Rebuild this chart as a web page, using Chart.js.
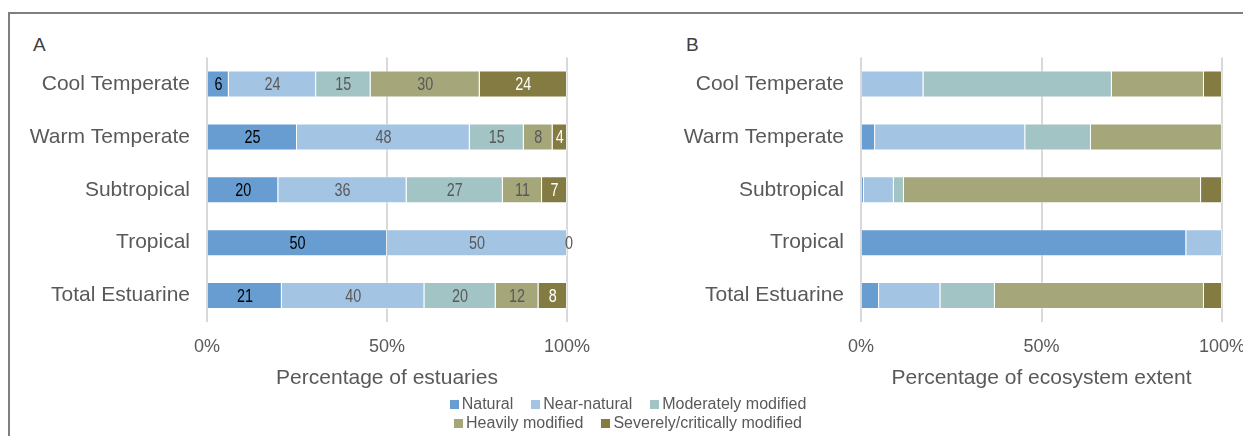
<!DOCTYPE html>
<html><head><meta charset="utf-8">
<script src="https://cdn.jsdelivr.net/npm/chart.js@4.4.1/dist/chart.umd.min.js"></script>
<style>
html,body{margin:0;padding:0;background:#fff;width:1243px;height:436px;overflow:hidden;font-family:"Liberation Sans",Arial,sans-serif;}
#frame{position:absolute;left:8px;top:12px;width:1260px;height:440px;border-left:2px solid #7f7f7f;border-top:2px solid #7f7f7f;}
.panel{position:absolute;font-size:19px;color:#404040;line-height:20px;}
.wrap{position:absolute;}
#legend{position:absolute;left:328px;width:600px;top:394px;text-align:center;font-size:16px;color:#595959;line-height:19px;}
.row{white-space:nowrap;}
.item{display:inline-block;margin:0 9px;}
.box{display:inline-block;width:9px;height:9px;margin-right:3px;vertical-align:0px;}
</style></head>
<body>
<div id="frame"></div>
<div class="panel" style="left:33px;top:35px;">A</div>
<div class="panel" style="left:686px;top:35px;">B</div>
<div class="wrap" style="left:10px;top:28px;width:610px;height:372px;"><canvas id="c1" width="610" height="372"></canvas></div>
<div class="wrap" style="left:630px;top:28px;width:653px;height:372px;"><canvas id="c2" width="653" height="372"></canvas></div>
<div id="legend"></div>
<script>
const categories = ['Cool Temperate', 'Warm Temperate', 'Subtropical', 'Tropical', 'Total Estuarine'];
const seriesNames = ['Natural', 'Near-natural', 'Moderately modified', 'Heavily modified', 'Severely/critically modified'];
const seriesColors = ['#679dd1', '#a4c4e3', '#a3c4c5', '#a5a77a', '#837b42'];
const labelColors = ['#000000', '#595959', '#595959', '#595959', '#ffffff'];

// Panel A: percentage of estuaries (number labels as printed)
const estNatural  = [6, 25, 20, 50, 21];
const estNear     = [24, 48, 36, 50, 40];
const estModerate = [15, 15, 27, 0, 20];
const estHeavy    = [30, 8, 11, 0, 12];
const estSevere   = [24, 4, 7, 0, 8];

// Panel B: percentage of ecosystem extent
const extNatural  = [0, 3.9, 0.8, 90.1, 5.0];
const extNear     = [17.3, 41.6, 8.3, 9.9, 17.0];
const extModerate = [52.2, 18.2, 2.8, 0, 15.1];
const extHeavy    = [25.5, 36.3, 82.3, 0, 57.9];
const extSevere   = [5.0, 0, 5.8, 0, 5.0];

const tickValues = [0, 50, 100];
const tickLabels = ['0%', '50%', '100%'];
const titleA = 'Percentage of estuaries';
const titleB = 'Percentage of ecosystem extent';

// legend
const lg = document.getElementById('legend');
[[0,1,2],[3,4]].forEach(r => {
  const row = document.createElement('div'); row.className = 'row';
  r.forEach(i => {
    const it = document.createElement('span'); it.className = 'item';
    const b = document.createElement('span'); b.className = 'box'; b.style.background = seriesColors[i];
    it.appendChild(b); it.appendChild(document.createTextNode(seriesNames[i]));
    row.appendChild(it);
  });
  lg.appendChild(row);
});

const segLabels = {
  id: 'segLabels',
  afterDatasetsDraw(chart, args, opts) {
    if (!opts.show) return;
    const ctx = chart.ctx;
    ctx.save();
    ctx.font = '18px "Liberation Sans", Arial, sans-serif';
    ctx.textAlign = 'center';
    ctx.textBaseline = 'middle';
    const zeroShown = {};
    chart.data.datasets.forEach((ds, di) => {
      const meta = chart.getDatasetMeta(di);
      meta.data.forEach((el, i) => {
        const raw = ds.raw[i];
        if (raw === 0) { if (zeroShown[i]) return; zeroShown[i] = true; }
        const p = el.getProps(['x', 'base', 'y'], true);
        const cx = (p.x + p.base) / 2 + (raw === 0 ? 2 : 0);
        ctx.fillStyle = ds.labelColor;
        ctx.save();
        ctx.translate(cx, p.y + 1);
        ctx.scale(0.8, 1);
        ctx.fillText(String(raw), 0, 0);
        ctx.restore();
      });
    });
    ctx.restore();
  }
};

function makeChart(id, series, normalize, title, yWidth, padRight, showLabels) {
  const datasets = series.map((vals, si) => {
    const data = vals.map((v, i) => {
      if (!normalize) return v;
      const tot = series.reduce((s, arr) => s + arr[i], 0);
      return v / tot * 100;
    });
    return {
      label: seriesNames[si], data: data, raw: vals,
      backgroundColor: seriesColors[si], labelColor: labelColors[si],
      borderColor: 'rgba(255,255,255,0.45)', borderWidth: 1,
      barPercentage: 0.51, categoryPercentage: 1
    };
  });
  return new Chart(document.getElementById(id), {
    type: 'bar',
    data: { labels: categories, datasets: datasets },
    plugins: [segLabels],
    options: {
      indexAxis: 'y', responsive: false, animation: false,
      layout: { padding: { top: 18, right: padRight, left: 0, bottom: 0 } },
      plugins: { legend: { display: false }, tooltip: { enabled: false }, segLabels: { show: showLabels } },
      scales: {
        x: {
          stacked: true, min: 0, max: 100,
          afterBuildTicks: s => { s.ticks = tickValues.map(v => ({ value: v })); },
          ticks: { padding: 14, color: '#595959', font: { size: 18, family: '"Liberation Sans", Arial, sans-serif' },
                   callback: v => tickLabels[tickValues.indexOf(v)] },
          grid: { color: '#d9d9d9', lineWidth: 2, drawTicks: false },
          border: { display: false },
          title: { display: true, text: title, color: '#595959', padding: { top: 0, bottom: 9 },
                   font: { size: 21, family: '"Liberation Sans", Arial, sans-serif' } },
          afterFit: s => { s.height = 78; }
        },
        y: {
          stacked: true,
          ticks: { padding: 17, color: '#595959', font: { size: 21, family: '"Liberation Sans", Arial, sans-serif' } },
          grid: { display: false, drawTicks: false },
          border: { display: false },
          afterFit: s => { s.width = yWidth; }
        }
      }
    }
  });
}

makeChart('c1', [estNatural, estNear, estModerate, estHeavy, estSevere], true, titleA, 197, 53, true);
makeChart('c2', [extNatural, extNear, extModerate, extHeavy, extSevere], false, titleB, 231, 61, false);
</script>
</body></html>
